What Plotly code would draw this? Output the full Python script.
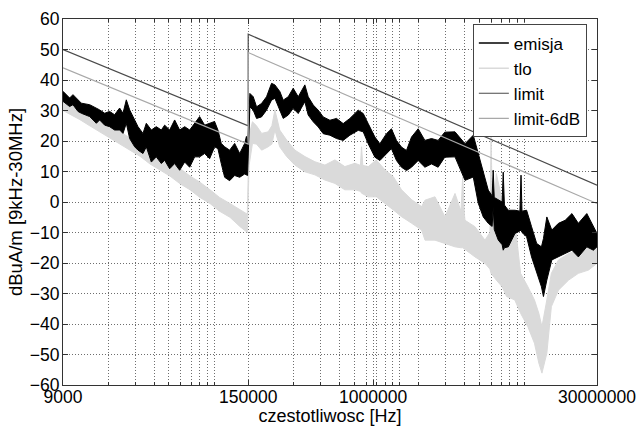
import numpy as np
import plotly.graph_objects as go

# ---------------- data ----------------
emis_f = [9000, 9955, 10474, 11300, 11890, 13500, 14940, 15700, 16960, 18270,
          19710, 21280, 22390, 23550, 24780, 26730, 28120, 30330, 31900, 34430,
          37130, 40080, 42160, 45480, 49070, 52950, 57150, 61650, 66510, 71700,
          77400, 83500, 90000, 94700, 99600, 104900, 113100, 122100, 131800,
          142200, 146000, 148500,
          153800, 161900, 170300, 183600, 198100, 213800, 225000, 242700, 255300,
          275400, 297000, 320700, 354600, 373200, 402800, 434600, 468800, 518900,
          573900, 634800, 702600, 798000, 861000, 928500, 1027500, 1108500,
          1225500, 1321500, 1426500, 1539000, 1660500, 1792500, 1983000, 2196000,
          2428500, 2685000, 2970000, 3470000, 4040000, 4580000, 4940000, 5330000,
          5750000, 6100000, 6200000, 6300000, 6700000, 7100000, 7220000, 7350000,
          7800000, 8630000, 9300000, 9460000, 9600000, 10300000, 11100000,
          12000000, 12900000, 13300000, 14000000, 15100000, 16700000, 18500000,
          20500000, 22600000, 25700000, 28400000, 30000000]
emis_hi = [36.3, 34.1, 35.2, 33.5, 32.4, 31.9, 30.8, 30.2, 29.1, 29.7,
           28.6, 30.8, 29.1, 33.5, 30.2, 26.9, 24.7, 22.5, 25.8, 23.6,
           24.7, 23.6, 25.2, 23.6, 26.9, 23.6, 24.7, 23.6, 25.8, 28.0,
           25.2, 25.8, 26.4, 23.6, 19.2, 18.1, 17.0, 19.2, 15.9,
           19.2, 21.5, 18.1,
           35.6, 34.5, 31.2, 32.3, 34.5, 38.9, 38.4, 36.2, 33.4,
           34.5, 37.3, 34.5, 38.4, 34.5, 31.8, 30.1, 27.9, 26.8,
           27.4, 25.7, 27.4, 30.1, 29.0, 25.7, 21.3, 19.1,
           22.4, 24.0, 20.2, 18.0, 16.9, 21.3, 24.0, 20.2,
           20.8, 20.2, 22.9, 23.0, 19.1, 21.9, 15.9, 9.3,
           3.9, 2.0, 10.4, 1.5, 0.6, 0.0, 9.8, -1.0,
           -2.7, -2.7, -3.0, 8.8, -3.0, -2.7, -8.1,
           -13.6, -14.7, -12.0, -4.9, -9.2, -7.0, -6.0,
           -3.8, -7.0, -3.8, -8.1, -10.3]
emis_lo = [33.0, 31.3, 31.9, 29.7, 29.1, 28.0, 25.8, 26.9, 25.2, 24.7,
           23.6, 23.6, 22.5, 25.8, 20.8, 18.1, 17.0, 15.9, 18.1, 13.1,
           14.8, 12.6, 13.7, 10.9, 12.6, 10.4, 13.1, 11.4, 14.8, 14.8,
           15.9, 14.2, 18.1, 17.5, 12.6, 8.1, 7.0, 8.7, 8.1,
           9.2, 9.0, 8.7,
           31.2, 30.1, 27.4, 27.9, 30.1, 33.4, 34.0, 30.1, 27.4,
           28.5, 30.7, 29.0, 32.9, 28.5, 26.3, 24.6, 22.4, 21.9,
           20.8, 20.2, 21.9, 23.5, 23.0, 19.1, 14.7, 13.6,
           15.8, 17.5, 13.6, 11.4, 10.3, 11.4, 13.6, 11.4,
           12.5, 11.4, 14.7, 14.8, 7.1, 8.2, -0.4, -4.9,
           -7.0, -8.0, -1.6, -9.0, -12.5, -14.0, -15.8, -15.0,
           -14.7, -10.3, -9.5, -9.2, -10.0, -11.4, -18.0,
           -23.4, -27.8, -31.0, -25.6, -19.0, -18.0, -16.9,
           -15.8, -18.0, -14.7, -15.8, -14.7]

tlo_f = [9000, 11640, 13500, 15800, 18400, 21400, 24800, 29000, 33700, 39300,
         45700, 53200, 62000, 72000, 84000, 97000, 113600, 132000, 144000, 148000,
         152000, 160000, 170000, 184000, 203000, 215000, 225000, 242000, 269000,
         305000, 355000, 413000, 481000, 560000, 651000, 759000, 825000, 839000,
         855000, 929000, 1050000, 1200000, 1360000, 1540000, 1800000, 2090000,
         2200000, 2560000, 2980000, 3470000, 3800000, 3900000, 4000000, 4040000,
         4700000, 5470000, 5900000, 6000000, 6150000, 6500000, 7100000, 7600000,
         8600000, 9400000, 10500000, 11600000, 12400000, 13000000, 14000000,
         15000000, 16700000, 19500000, 22600000, 26400000, 30000000]
tlo_hi = [34.0, 31.0, 29.0, 27.0, 25.0, 23.0, 21.0, 19.0, 17.5, 15.0,
          13.0, 11.0, 8.5, 6.5, 4.0, 1.5, -0.5, -2.5, -3.5, -4.0,
          22.0, 26.3, 25.0, 22.5, 23.0, 25.0, 30.2, 23.6, 20.3,
          17.0, 14.9, 13.2, 12.1, 13.8, 11.6, 12.7, 12.0, 18.1,
          12.0, 11.6, 13.8, 10.5, 8.3, 4.0, 0.7, -1.5,
          0.6, 1.7, -4.9, 2.8, -3.0, 8.2, -4.0, -6.0,
          -8.1, -12.5, -10.0, 22.9, -10.0, 9.3, 0.6, -13.6,
          -6.0, -23.4, -27.8, -32.1, -36.5, -40.9, -32.1,
          -23.4, -19.0, -16.9, -15.8, -14.7, -11.4]
tlo_lo = [30.0, 27.0, 25.0, 23.0, 21.0, 19.0, 17.0, 15.0, 12.5, 10.5,
          8.5, 6.0, 4.0, 1.5, -0.5, -3.0, -5.0, -8.0, -9.5, -10.0,
          12.0, 19.2, 19.0, 17.0, 18.1, 19.0, 23.6, 18.1, 14.9,
          12.1, 9.9, 8.9, 7.2, 6.1, 4.0, 4.0, 3.5, 2.9,
          2.5, 1.7, 1.7, -0.4, -2.6, -4.8, -7.0, -9.2,
          -12.5, -12.5, -13.6, -14.7, -15.0, -15.0, -15.5, -15.8,
          -18.0, -20.1, -22.0, -23.4, -24.0, -25.6, -27.8, -31.0,
          -32.1, -36.5, -40.9, -46.3, -52.8, -56.1, -49.6,
          -34.3, -28.9, -25.6, -23.4, -22.3, -20.1]

limit_f = [9000, 150000, 150000, 30000000]
limit_v = [50, 25, 55, 5.5]
limit6_v = [44, 19, 49, -0.5]

xtick_vals = [9000, 150000, 1000000, 30000000]
xtick_text = ["9000", "150000", "1000000", "30000000"]
minor_bases = [9000, 150000, 1000000]

# ---------------- figure ----------------
FONT = "Liberation Sans, Arial, sans-serif"
C_EMIS = "#000000"
C_TLO = "#dadada"
C_LIM = "#4a4a4a"
C_LIM6 = "#a8a8a8"
GRID_C = "#6e6e6e"
GRID_DASH = "1px,2px"


def band(f, hi, lo):
    f = np.asarray(f, float)
    x = np.concatenate([f, f[::-1]])
    y = np.concatenate([np.asarray(hi, float), np.asarray(lo, float)[::-1]])
    return x, y


fig = go.Figure()

tx, ty = band(tlo_f, tlo_hi, tlo_lo)
fig.add_trace(go.Scatter(x=tx, y=ty, mode="lines", fill="toself", fillcolor=C_TLO,
                         line=dict(color=C_TLO, width=1), showlegend=False,
                         hoverinfo="skip"))
ex, ey = band(emis_f, emis_hi, emis_lo)
fig.add_trace(go.Scatter(x=ex, y=ey, mode="lines", fill="toself", fillcolor=C_EMIS,
                         line=dict(color=C_EMIS, width=1), showlegend=False,
                         hoverinfo="skip"))
fig.add_trace(go.Scatter(x=limit_f, y=limit_v, mode="lines", name="limit",
                         line=dict(color=C_LIM, width=1.2), legendrank=3))
fig.add_trace(go.Scatter(x=limit_f, y=limit6_v, mode="lines", name="limit-6dB",
                         line=dict(color=C_LIM6, width=1.2), legendrank=4))
# legend entries for the band series
fig.add_trace(go.Scatter(x=[None], y=[None], mode="lines", name="emisja",
                         line=dict(color=C_EMIS, width=1.5), legendrank=1))
fig.add_trace(go.Scatter(x=[None], y=[None], mode="lines", name="tlo",
                         line=dict(color=C_TLO, width=1.5), legendrank=2))

minor_vals = [b * k for b in minor_bases for k in range(2, 11)]

grid = dict(showgrid=True, gridcolor=GRID_C, griddash=GRID_DASH, gridwidth=1)
fig.update_xaxes(type="log", range=[np.log10(9000), np.log10(30000000)],
                 tickmode="array", tickvals=xtick_vals, ticktext=xtick_text,
                 ticks="inside", ticklen=5, tickcolor="#333",
                 showline=True, linecolor="#333", linewidth=1, mirror="ticks",
                 minor=dict(tickmode="array", tickvals=minor_vals, ticks="inside",
                            ticklen=3, tickcolor="#333", showgrid=True,
                            gridcolor=GRID_C, griddash=GRID_DASH, gridwidth=1),
                 tickfont=dict(size=17.5, color="#000", family=FONT),
                 ticklabelstandoff=-4,
                 title=dict(text="czestotliwosc [Hz]", standoff=2,
                            font=dict(size=18, color="#000", family=FONT)),
                 zeroline=False, **grid)
fig.update_yaxes(range=[-60, 60], dtick=10, tick0=0,
                 ticks="inside", ticklen=5, tickcolor="#333",
                 showline=True, linecolor="#333", linewidth=1, mirror="ticks",
                 tickfont=dict(size=17.5, color="#000", family=FONT),
                 ticklabelstandoff=-1,
                 title=dict(text="dBuA/m [9kHz-30MHz]", standoff=2,
                            font=dict(size=18.5, color="#000", family=FONT)),
                 zeroline=False, **grid)

fig.update_layout(
    width=639, height=426,
    margin=dict(l=63, r=42, t=19, b=41, autoexpand=False),
    plot_bgcolor="white", paper_bgcolor="white",
    font=dict(family=FONT, color="#000"),
    legend=dict(x=0.981, y=0.985, xanchor="right", yanchor="top",
                bgcolor="white", bordercolor="#444", borderwidth=1,
                font=dict(size=17, family=FONT, color="#000"),
                tracegroupgap=0, itemwidth=30),
)

fig.write_html("out.html")
